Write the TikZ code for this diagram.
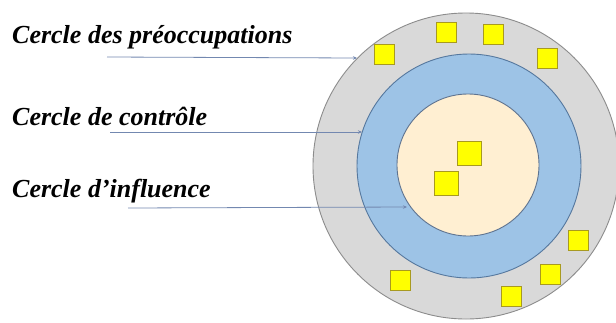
\documentclass[tikz,border=0pt]{standalone}
\usepackage{fontspec}
\setmainfont{Liberation Serif}
\usetikzlibrary{arrows.meta}
\definecolor{ringgray}{HTML}{D9D9D9}
\definecolor{ringgrayline}{HTML}{8C8C8C}
\definecolor{ringblue}{HTML}{9DC3E6}
\definecolor{ringblueline}{HTML}{56789E}
\definecolor{cream}{HTML}{FFEFD2}
\definecolor{creamline}{HTML}{5E7390}
\definecolor{sqyellow}{HTML}{FFFF00}
\definecolor{sqline}{HTML}{A89A20}
\definecolor{arrowcol}{HTML}{7388B0}
\tikzset{
  ring/.style={circle, inner sep=0pt, line width=0.9pt},
  sq/.style={rectangle, draw=sqline, fill=sqyellow, line width=0.9pt, minimum size=#1, inner sep=0pt},
  sq/.default=20pt,
  lbl/.style={anchor=base west, inner sep=0pt, font=\fontsize{26}{29}\selectfont\bfseries\itshape},
  pointer/.style={draw=arrowcol, line width=0.8pt, -{Stealth[length=4pt,width=3.5pt]}}
}
\begin{document}
\begin{tikzpicture}[x=1pt,y=-1pt]
\useasboundingbox (0,0) rectangle (616,322);
\clip (0,0) rectangle (616,322);
\node[ring, draw=ringgrayline, fill=ringgray, minimum size=306pt] (outer) at (466,166) {};
\node[ring, draw=ringblueline, fill=ringblue, minimum size=224pt] (middle) at (469,166) {};
\node[ring, draw=creamline, fill=cream, minimum size=142pt] (inner) at (468,165) {};
% squares
\node[sq] (s1) at (384,54) {};
\node[sq] (s2) at (446,32) {};
\node[sq] (s3) at (493,34) {};
\node[sq] (s4) at (547,58) {};
\node[sq=24pt] (s5) at (469,153) {};
\node[sq=24pt] (s6) at (446,183) {};
\node[sq] (s7) at (578,240) {};
\node[sq] (s8) at (550,274) {};
\node[sq] (s9) at (511,296) {};
\node[sq] (s10) at (400,280) {};
% labels
\node[lbl] (l1) at (12,43) {Cercle des préoccupations};
\node[lbl] (l2) at (12,125) {Cercle de contrôle};
\node[lbl] (l3) at (12,197) {Cercle d’influence};
% pointer endpoints
\coordinate (a1) at (107,57);
\coordinate (b1) at (357,58);
\coordinate (a2) at (110,132);
\coordinate (b2) at (362,132);
\coordinate (a3) at (128,208);
\coordinate (b3) at (407,207);
\draw[pointer] (a1) -- (b1);
\draw[pointer] (a2) -- (b2);
\draw[pointer] (a3) -- (b3);
\end{tikzpicture}
\end{document}
